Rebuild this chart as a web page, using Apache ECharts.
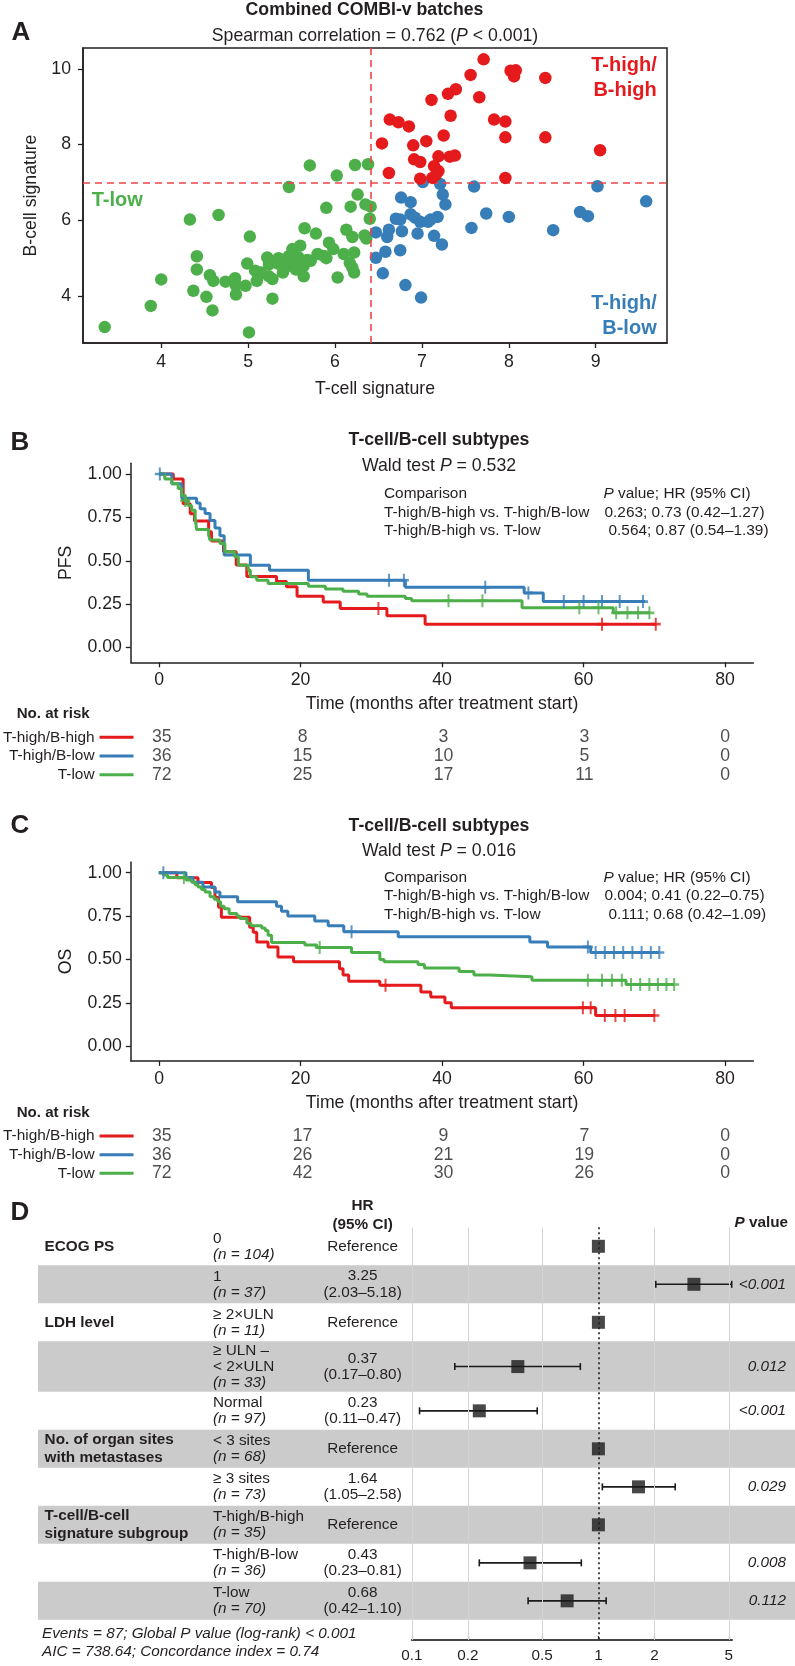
<!DOCTYPE html>
<html><head><meta charset="utf-8">
<script src="https://cdn.jsdelivr.net/npm/echarts@6/dist/echarts.min.js"></script>
<style>html,body{margin:0;padding:0;background:#fff}#c{width:795px;height:1666px}</style>
</head><body><div id="c"></div>
<script>
const FONT = '"Liberation Sans", Arial, Helvetica, sans-serif';
const TXT = '#231f20';
const RED = '#E41A1C', BLUE = '#377EB8', GREEN = '#4DAF4A';

// ---------- Panel A data ----------
const tLowPts = [[3.35,3.18],[3.88,3.74],[4.00,4.44],[4.33,6.02],[4.66,6.14],[4.41,5.05],[4.41,4.70],[4.37,4.14],[4.52,3.98],[4.59,3.62],
 [4.56,4.55],[4.60,4.40],[4.74,4.38],[4.85,4.47],[4.86,4.04],[5.01,3.04],[5.02,5.57],[4.99,4.86],[4.97,4.27],[5.08,4.67],
 [5.12,4.54],[5.10,4.40],[5.24,4.52],[5.28,3.93],[5.22,5.02],[5.24,4.84],[5.41,4.93],[5.47,4.80],[5.47,5.06],[5.51,5.24],
 [5.58,5.02],[5.60,5.33],[5.64,4.80],[5.64,4.52],[5.72,4.93],[5.80,5.11],[5.87,5.06],[5.65,5.79],[5.78,5.65],[5.93,5.41],
 [5.98,5.24],[6.03,4.49],[6.10,5.11],[6.22,5.15],[6.17,4.87],[6.20,4.75],[6.22,4.62],[6.13,5.75],[6.20,5.56],[6.36,5.52],
 [6.40,6.04],[6.18,6.36],[6.35,6.42],[6.41,6.36],[6.26,6.68],[5.90,6.33],[5.47,6.88],[5.71,7.45],[6.02,7.18],[6.23,7.46],
 [6.38,7.48],[5.35,4.85],[5.55,4.70],[5.40,4.62],[5.28,4.45],[5.68,4.95],[5.53,4.92],[5.35,5.00],[4.86,4.28],[5.15,4.62],
 [5.90,5.00],[6.34,5.60]];
const tHighBLowPts = [[7.01,7.01],[7.21,6.96],[7.60,6.89],[9.02,6.90],[7.24,6.68],[7.27,6.42],[6.76,6.60],[6.87,6.48],[9.58,6.50],[7.74,6.18],
 [8.00,6.09],[8.82,6.22],[8.91,6.11],[6.70,6.04],[6.75,6.02],[6.87,6.16],[6.92,6.07],[6.98,5.96],[7.07,5.96],[7.18,6.09],
 [6.77,5.71],[6.95,5.65],[7.14,5.59],[7.23,5.36],[7.57,5.80],[8.51,5.74],[6.60,5.56],[6.58,5.17],[6.75,5.21],[6.55,4.60],
 [6.81,4.29],[6.99,3.96],[6.47,5.68],[6.47,5.01],[6.62,5.75],[7.10,6.02]];
const tHighBHighPts = [[7.71,10.25],[7.56,9.84],[8.02,9.95],[8.08,9.96],[8.06,9.80],[8.42,9.76],[7.39,9.46],[7.30,9.34],[7.11,9.18],[7.66,9.25],
 [7.33,8.76],[6.63,8.66],[6.73,8.59],[6.85,8.48],[7.83,8.66],[7.96,8.61],[7.25,8.24],[7.96,8.19],[8.42,8.19],[6.54,8.03],
 [6.90,7.98],[7.05,8.09],[9.05,7.85],[6.91,7.61],[6.98,7.54],[7.19,7.69],[7.32,7.68],[7.38,7.71],[7.14,7.43],[7.19,7.30],
 [7.12,7.12],[6.62,7.25],[6.98,7.10],[7.96,7.12],[7.16,7.20]];
const tCellCut = 6.41, bCellCut = 7.0;
const scatterXTicks = [4,5,6,7,8,9];
const scatterYTicks = [4,6,8,10];

// ---------- Panels B / C data ----------
const groups = ['T-high/B-high','T-high/B-low','T-low'];
const pfsHH = [[0,1],[2.0,0.971],[3.4,0.829],[4.4,0.771],[5.0,0.729],[7.0,0.667],[7.4,0.614],[9.1,0.552],[10.9,0.476],[12.4,0.41],[16.6,0.38],[18.0,0.35],[19.5,0.296],[23.2,0.263],[25.6,0.225],[32.2,0.183],[37.6,0.135],[70.3,0.135]];
const pfsHL = [[0,1],[1.8,0.944],[3.2,0.861],[5.3,0.833],[5.8,0.80],[6.5,0.772],[7.2,0.733],[7.9,0.689],[8.6,0.644],[9.2,0.533],[12.9,0.475],[15.6,0.446],[21.1,0.388],[34.8,0.347],[51.6,0.315],[54.3,0.265],[68.7,0.265]];
const pfsTL = [[0,1],[0.8,0.972],[1.8,0.944],[2.7,0.917],[3.2,0.875],[3.7,0.847],[4.1,0.819],[4.6,0.792],[5.1,0.75],[5.3,0.68],[7.0,0.648],[7.2,0.62],[8.6,0.60],[9.3,0.552],[10.7,0.523],[11.2,0.475],[12.6,0.446],[12.9,0.408],[13.8,0.388],[15.4,0.369],[21.1,0.354],[23.5,0.337],[26.0,0.325],[28.2,0.308],[29.4,0.296],[34.8,0.283],[35.7,0.27],[51.3,0.23],[64.2,0.20],[69.4,0.20]];
const pfsHHCens = [31.0,62.6,70.2];
const pfsHLCens = [0.1,32.5,34.6,46.1,52.2,57.2,60.0,62.6,65.1,68.4];
const pfsTLCens = [3.7,40.9,45.7,59.4,62.1,64.6,66.2,67.7,69.3];

const osHH = [[0,1],[2.5,0.971],[5.5,0.943],[7.4,0.914],[7.9,0.857],[8.4,0.80],[8.8,0.743],[12.8,0.686],[13.3,0.657],[13.8,0.60],[15.4,0.571],[16.8,0.514],[19.0,0.486],[25.5,0.446],[26.0,0.41],[26.8,0.374],[31.2,0.351],[37.0,0.312],[38.4,0.283],[40.4,0.25],[41.3,0.222],[61.7,0.177],[70.1,0.177]];
const osHL = [[0,1],[3.8,0.972],[4.8,0.944],[6.2,0.917],[7.9,0.889],[8.6,0.861],[11.1,0.833],[16.6,0.806],[17.3,0.778],[18.2,0.75],[22.0,0.722],[23.9,0.694],[26.1,0.66],[33.8,0.63],[52.4,0.60],[54.9,0.572],[61.0,0.54],[70.7,0.54]];
const osTL = [[0,1],[0.6,0.986],[1.2,0.972],[3.8,0.958],[4.6,0.944],[5.1,0.931],[5.5,0.917],[6.0,0.903],[6.5,0.889],[7.2,0.861],[7.8,0.847],[8.3,0.833],[8.7,0.806],[9.2,0.792],[9.9,0.764],[11.0,0.75],[11.4,0.736],[12.4,0.708],[13.0,0.694],[14.5,0.681],[15.0,0.667],[15.4,0.639],[15.9,0.597],[20.6,0.583],[22.3,0.569],[27.2,0.54],[31.2,0.50],[31.8,0.486],[36.6,0.47],[37.5,0.45],[42.4,0.43],[44.5,0.41],[46.7,0.40],[52.7,0.38],[66.0,0.355],[72.8,0.355]];
const osHHCens = [32.0,59.9,61.0,63.0,64.5,65.8,70.0];
const osHLCens = [0.6,27.2,60.6,61.7,63.0,64.3,65.6,66.9,68.2,69.5,70.7];
const osTLCens = [3.5,22.7,60.6,62.6,64.0,65.4,66.7,68.0,69.3,70.5,71.7,72.8];

const riskTimes = [0,20,40,60,80];
const pfsRiskHH = [35,8,3,3,0], pfsRiskHL = [36,15,10,5,0], pfsRiskTL = [72,25,17,11,0];
const osRiskHH = [35,17,9,7,0], osRiskHL = [36,26,21,19,0], osRiskTL = [72,42,30,26,0];
const kmXTicks = [0,20,40,60,80];
const kmYTicks = [0,0.25,0.5,0.75,1];

// ---------- Panel D data ----------
const groupLabels = ['ECOG PS','','LDH level','','','No. of organ sites\nwith metastases','','T-cell/B-cell\nsignature subgroup','',''];
const levelLabels = ['0','1','≥ 2×ULN','≥ ULN –\n< 2×ULN','Normal','< 3 sites','≥ 3 sites','T-high/B-high','T-high/B-low','T-low'];
const nCounts = [104,37,11,33,97,68,73,35,36,70];
const hrVals = [1,3.25,1,0.37,0.23,1,1.64,1,0.43,0.68];
const hrLo = [null,2.03,null,0.17,0.11,null,1.05,null,0.23,0.42];
const hrHi = [null,5.18,null,0.80,0.47,null,2.58,null,0.81,1.10];
const pLabels = ['','<0.001','','0.012','<0.001','','0.029','','0.008','0.112'];
const forestTicks = [0.1,0.2,0.5,1,2,5];

// ---------- layout ----------
const rowSpan = [1,1,1,1.33,1,1,1,1,1,1];
const shaded = [0,1,0,1,0,1,0,1,0,1];
const rowTop = []; { let acc = 0; rowSpan.forEach(s => { rowTop.push(acc); acc += s; }); }
const rowsTotal = rowSpan.reduce((a,b)=>a+b,0);
const rowCenter = rowTop.map((t,i)=>t+rowSpan[i]/2);
const UNIT = 38.0;
const forestYMax = rowsTotal + 0.53;
const D_TOP = 1227.3, D_H = forestYMax*UNIT;

function survAt(curve, t){ let s = 1; for (const [ti,si] of curve) { if (ti <= t) s = si; } return s; }
const plusPath = 'path://M-1,-5L1,-5L1,-1L5,-1L5,1L1,1L1,5L-1,5L-1,1L-5,1L-5,-1L-1,-1Z';

const axLine = {show:true, onZero:false, lineStyle:{color:TXT, width:1.5}};
const axTick = (vals)=>({show:true, length:5, customValues:vals, lineStyle:{color:TXT, width:1.3}});
const lab = (vals, fmt, margin)=>({color:TXT, fontFamily:FONT, fontSize:17.7, customValues:vals, formatter:fmt, margin:margin});
const nameStyle = {color:TXT, fontFamily:FONT, fontSize:17.7};

function kmAxes(gi){
  return {
    x: {gridIndex:gi, type:'value', min:-4, max:84, splitLine:{show:false}, axisLine:axLine, axisTick:axTick(kmXTicks),
        axisLabel:lab(kmXTicks, v=>String(v), 9), name:'Time (months after treatment start)', nameLocation:'middle', nameGap:33, nameTextStyle:nameStyle},
    y: {gridIndex:gi, type:'value', min:-0.085, max:1.062, splitLine:{show:false}, axisLine:axLine, axisTick:axTick(kmYTicks),
        axisLabel:lab(kmYTicks, v=>v.toFixed(2), 9), nameLocation:'middle', nameGap:56, nameTextStyle:nameStyle}
  };
}
const kmB = kmAxes(1), kmC = kmAxes(3);
kmB.y.name = 'PFS'; kmC.y.name = 'OS';

function riskAxes(gi){
  return {
    x: {gridIndex:gi, type:'value', min:-4, max:84, show:false},
    y: {gridIndex:gi, type:'category', data:groups, inverse:true, axisLine:{show:false}, axisTick:{show:false}, splitLine:{show:false},
        axisLabel:{margin:0, formatter:(v,i)=>'{n|'+v+'}{l'+i+'|}',
          rich:{n:{fontSize:15.4, fontFamily:FONT, color:TXT, padding:[0,5,0,0]},
                l0:{width:34, height:3, backgroundColor:RED}, l1:{width:34, height:3, backgroundColor:BLUE}, l2:{width:34, height:3, backgroundColor:GREEN}}}}
  };
}
const rkB = riskAxes(2), rkC = riskAxes(4);

function kmSeries(curves, cens, xi, yi){
  const cols = [RED, BLUE, GREEN];
  const out = [];
  curves.forEach((c,k)=>{
    out.push({type:'line', xAxisIndex:xi, yAxisIndex:yi, data:c, step:'end', showSymbol:false, symbol:'none',
      lineStyle:{color:cols[k], width:3}, itemStyle:{color:cols[k]}, z:3+k, silent:true});
  });
  cens.forEach((cs,k)=>{
    out.push({type:'scatter', xAxisIndex:xi, yAxisIndex:yi, data:cs.map(t=>[t, survAt(curves[k], t)]), symbol:plusPath, symbolSize:[10,13],
      itemStyle:{color:cols[k]}, z:6+k, silent:true});
  });
  return out;
}
function riskSeries(counts, xi, yi){
  const data = [];
  counts.forEach((arr,g)=>arr.forEach((n,k)=>data.push([riskTimes[k], groups[g], n])));
  return {type:'scatter', xAxisIndex:xi, yAxisIndex:yi, data:data, symbolSize:1, itemStyle:{color:'rgba(0,0,0,0)'}, silent:true,
    label:{show:true, position:'inside', formatter:p=>String(p.value[2]), fontSize:17.7, fontFamily:FONT, color:TXT}};
}

function tableRender(params, api){
  const i = params.dataIndex;
  const top = api.coord([0, rowTop[i]])[1];
  const bot = api.coord([0, rowTop[i]+rowSpan[i]])[1];
  const cy = (top+bot)/2;
  const ch = [];
  if (shaded[i]) ch.push({type:'rect', shape:{x:38, y:top, width:757, height:bot-top}, style:{fill:'#cbcbcb'}});
  const base = {fontFamily:FONT, fontSize:15.3, fill:TXT};
  if (groupLabels[i]) ch.push({type:'text', style:Object.assign({}, base, {text:groupLabels[i], x:44.6, y:cy, align:'left', verticalAlign:'middle', fontWeight:'bold', lineHeight:17.5})});
  const lvLines = levelLabels[i].split('\n').map(s=>'{a|'+s+'}').join('\n') + '\n{i|(n = '+nCounts[i]+')}';
  ch.push({type:'text', style:{text:lvLines, x:213, y:cy, align:'left', verticalAlign:'middle', fontFamily:FONT, fontSize:15.3, fill:TXT,
    rich:{a:{fontFamily:FONT, fontSize:15.3, fill:TXT, lineHeight:16}, i:{fontFamily:FONT, fontSize:15.3, fill:TXT, fontStyle:'italic', lineHeight:16}}}});
  const hrText = hrLo[i]==null ? 'Reference' : hrVals[i].toFixed(2)+'\n('+hrLo[i].toFixed(2)+'–'+hrHi[i].toFixed(2)+')';
  ch.push({type:'text', style:Object.assign({}, base, {text:hrText, x:362.6, y:cy, align:'center', verticalAlign:'middle', lineHeight:16.5})});
  if (pLabels[i]) ch.push({type:'text', style:Object.assign({}, base, {text:pLabels[i], x:786, y:cy, align:'right', verticalAlign:'middle', fontStyle:'italic'})});
  return {type:'group', children:ch};
}
function errRender(params, api){
  const a = api.coord([api.value(0), api.value(2)]);
  const b = api.coord([api.value(1), api.value(2)]);
  const ls = {stroke:'#1a1a1a', lineWidth:1.6};
  return {type:'group', children:[
    {type:'line', shape:{x1:a[0], y1:a[1], x2:b[0], y2:b[1]}, style:ls},
    {type:'line', shape:{x1:a[0], y1:a[1]-3.5, x2:a[0], y2:a[1]+3.5}, style:ls},
    {type:'line', shape:{x1:b[0], y1:b[1]-3.5, x2:b[0], y2:b[1]+3.5}, style:ls}
  ]};
}
const errData = [];
hrVals.forEach((h,i)=>{ if (hrLo[i]!=null) errData.push([hrLo[i], hrHi[i], rowCenter[i]]); });

function T(text, x, y, o){
  return {type:'text', silent:true, style:Object.assign({text:text, x:x, y:y, align:'left', verticalAlign:'middle', fontFamily:FONT, fontSize:17.7, fill:TXT}, o||{})};
}
const richP = (size, bold)=>({r:{fontFamily:FONT, fontSize:size, fill:TXT, fontWeight:bold?'bold':'normal'}, i:{fontFamily:FONT, fontSize:size, fill:TXT, fontStyle:'italic', fontWeight:bold?'bold':'normal'}});

const graphics = [
  T('A', 21, 33, {align:'center', fontSize:26, fontWeight:'bold'}),
  T('B', 20, 443, {align:'center', fontSize:26, fontWeight:'bold'}),
  T('C', 20, 826, {align:'center', fontSize:26, fontWeight:'bold'}),
  T('D', 20, 1213, {align:'center', fontSize:26, fontWeight:'bold'}),
  T('Combined COMBI-v batches', 364.5, 10, {align:'center', fontWeight:'bold'}),
  T('{r|Spearman correlation = 0.762 (}{i|P}{r| < 0.001)}', 375, 35.7, {align:'center', rich:richP(17.7)}),
  T('T-high/\nB-high', 656.7, 78, {align:'right', fontSize:20, fontWeight:'bold', fill:RED, lineHeight:24.3}),
  T('T-low', 91.7, 200, {fontSize:20, fontWeight:'bold', fill:GREEN}),
  T('T-high/\nB-low', 656.7, 315.8, {align:'right', fontSize:20, fontWeight:'bold', fill:BLUE, lineHeight:25}),
  // B
  T('T-cell/B-cell subtypes', 439, 440, {align:'center', fontWeight:'bold'}),
  T('{r|Wald test }{i|P}{r| = 0.532}', 439, 465.7, {align:'center', rich:richP(17.7)}),
  T('Comparison', 384, 494, {fontSize:15.4}),
  T('{i|P}{r| value; HR (95% CI)}', 603.5, 494, {rich:richP(15.4)}),
  T('T-high/B-high vs. T-high/B-low', 384, 512.3, {fontSize:15.4}),
  T('0.263; 0.73 (0.42–1.27)', 604.5, 512.3, {fontSize:15.4}),
  T('T-high/B-high vs. T-low', 384, 531, {fontSize:15.4}),
  T('0.564; 0.87 (0.54–1.39)', 608.5, 531, {fontSize:15.4}),
  T('No. at risk', 16.7, 714.3, {fontSize:15.1, fontWeight:'bold'}),
  // C
  T('T-cell/B-cell subtypes', 439, 825.7, {align:'center', fontWeight:'bold'}),
  T('{r|Wald test }{i|P}{r| = 0.016}', 439, 851, {align:'center', rich:richP(17.7)}),
  T('Comparison', 384, 877.3, {fontSize:15.4}),
  T('{i|P}{r| value; HR (95% CI)}', 603.5, 877.3, {rich:richP(15.4)}),
  T('T-high/B-high vs. T-high/B-low', 384, 896, {fontSize:15.4}),
  T('0.004; 0.41 (0.22–0.75)', 604.5, 896, {fontSize:15.4}),
  T('T-high/B-high vs. T-low', 384, 914.3, {fontSize:15.4}),
  T('0.111; 0.68 (0.42–1.09)', 608.5, 914.3, {fontSize:15.4}),
  T('No. at risk', 16.7, 1113.3, {fontSize:15.1, fontWeight:'bold'}),
  // D
  T('HR', 362.6, 1206, {align:'center', fontSize:15.3, fontWeight:'bold'}),
  T('(95% CI)', 362.6, 1225, {align:'center', fontSize:15.3, fontWeight:'bold'}),
  T('{i|P}{r| value}', 788, 1223, {align:'right', rich:richP(15.3, true)}),
  T('Events = 87; Global P value (log-rank) < 0.001', 42, 1633.3, {fontSize:15.3, fontStyle:'italic'}),
  T('AIC = 738.64; Concordance index = 0.74', 42, 1651.7, {fontSize:15.3, fontStyle:'italic'})
];

const option = {
  animation:false,
  backgroundColor:'#ffffff',
  textStyle:{fontFamily:FONT},
  graphic:{elements:graphics},
  grid:[
    {left:83, top:48, width:584, height:295, show:true, borderColor:TXT, borderWidth:1.5},
    {left:130.8, top:463.3, width:622.6, height:199},
    {left:130.8, top:728, width:622.6, height:56},
    {left:130.8, top:861.9, width:622.6, height:199},
    {left:130.8, top:1126.7, width:622.6, height:56},
    {left:38, top:D_TOP, width:757, height:D_H},
    {left:411.8, top:D_TOP, width:320.2, height:D_H}
  ],
  xAxis:[
    {gridIndex:0, type:'value', min:3.1, max:9.82, splitLine:{show:false}, axisLine:axLine, axisTick:axTick(scatterXTicks),
      axisLabel:lab(scatterXTicks, v=>String(v), 10), name:'T-cell signature', nameLocation:'middle', nameGap:37, nameTextStyle:nameStyle},
    kmB.x, rkB.x, kmC.x, rkC.x,
    {gridIndex:5, type:'value', min:0, max:1, show:false},
    {gridIndex:6, type:'log', logBase:10, min:0.1, max:5.2, splitLine:{show:false},
      axisLine:{show:true, onZero:false, lineStyle:{color:'#444', width:2}},
      axisTick:{show:true, inside:true, length:4, customValues:forestTicks, lineStyle:{color:'#444', width:1.2}},
      axisLabel:{color:TXT, fontFamily:FONT, fontSize:15.3, margin:8, customValues:forestTicks, formatter:v=>String(+(+v).toPrecision(2))}}
  ],
  yAxis:[
    {gridIndex:0, type:'value', min:2.76, max:10.55, splitLine:{show:false}, axisLine:axLine, axisTick:axTick(scatterYTicks),
      axisLabel:lab(scatterYTicks, v=>String(v), 12), name:'B-cell signature', nameLocation:'middle', nameGap:35, nameTextStyle:nameStyle},
    kmB.y, rkB.y, kmC.y, rkC.y,
    {gridIndex:5, type:'value', min:0, max:forestYMax, inverse:true, show:false},
    {gridIndex:6, type:'value', min:0, max:forestYMax, inverse:true, show:false}
  ],
  series:[
    {type:'scatter', xAxisIndex:0, yAxisIndex:0, data:tLowPts, symbolSize:12.5, itemStyle:{color:GREEN, opacity:1}, z:3, silent:true,
      markLine:{silent:true, symbol:['none','none'], label:{show:false}, lineStyle:{color:'#F0444A', type:[7,5], width:1.6},
        data:[{xAxis:tCellCut},{yAxis:bCellCut}]}},
    {type:'scatter', xAxisIndex:0, yAxisIndex:0, data:tHighBLowPts, symbolSize:12.5, itemStyle:{color:BLUE, opacity:1}, z:4, silent:true},
    {type:'scatter', xAxisIndex:0, yAxisIndex:0, data:tHighBHighPts, symbolSize:12.5, itemStyle:{color:RED, opacity:1}, z:5, silent:true},
    ...kmSeries([pfsHH, pfsHL, pfsTL], [pfsHHCens, pfsHLCens, pfsTLCens], 1, 1),
    riskSeries([pfsRiskHH, pfsRiskHL, pfsRiskTL], 2, 2),
    ...kmSeries([osHH, osHL, osTL], [osHHCens, osHLCens, osTLCens], 3, 3),
    riskSeries([osRiskHH, osRiskHL, osRiskTL], 4, 4),
    {type:'custom', xAxisIndex:5, yAxisIndex:5, z:1, silent:true, renderItem:tableRender,
      data:rowCenter.map(c=>[0.5, c]), encode:{x:0, y:1}, clip:false},
    {type:'custom', xAxisIndex:6, yAxisIndex:6, z:4, silent:true, renderItem:errRender, data:errData, encode:{x:[0,1], y:2},
      markLine:{silent:true, symbol:['none','none'], label:{show:false}, lineStyle:{color:'#d4d4d4', width:1, type:'solid'},
        data:forestTicks.filter(v=>v!==1).map(v=>({xAxis:v})).concat([{xAxis:1, lineStyle:{color:'#111', type:[2,3], width:1.5}}])}},
    {type:'scatter', xAxisIndex:6, yAxisIndex:6, data:hrVals.map((h,i)=>[h, rowCenter[i]]), symbol:'rect', symbolSize:13,
      itemStyle:{color:'#1a1a1a'}, z:6, silent:true}
  ]
};
const chart = echarts.init(document.getElementById('c'), null, {renderer:'canvas'});
chart.setOption(option);
</script></body></html>
